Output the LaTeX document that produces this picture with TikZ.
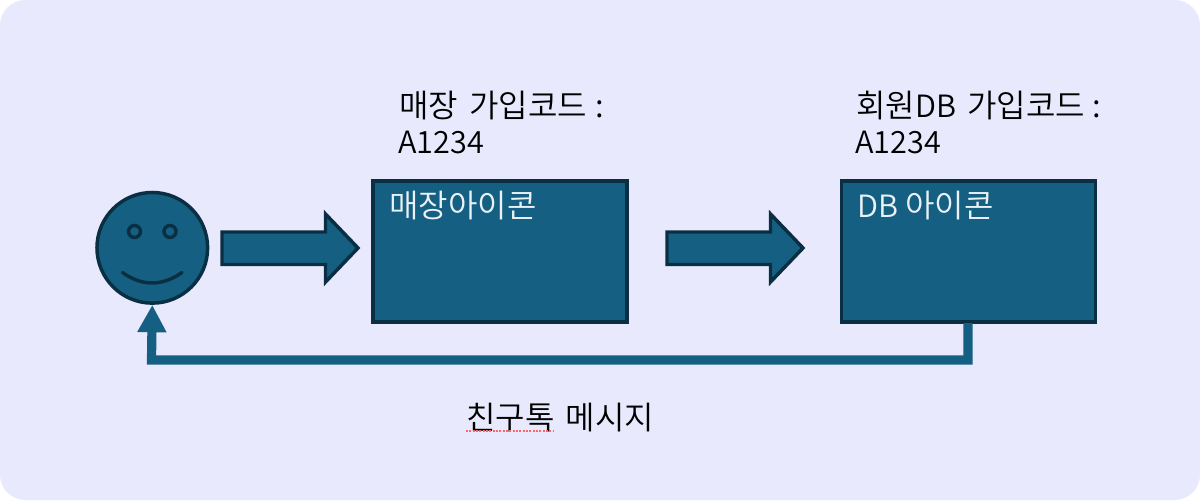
\documentclass[tikz,border=0pt]{standalone}
\usepackage{fontspec}
\setmainfont{Noto Sans CJK KR DemiLight}
\usetikzlibrary{arrows.meta}
\definecolor{bgc}{HTML}{E8E9FD}
\definecolor{fillc}{HTML}{156082}
\definecolor{edgec}{HTML}{0B2F42}
\definecolor{boxtxt}{HTML}{EAF2F7}
\newcommand{\wsp}[1]{\hspace*{#1pt}}
\tikzset{
  x=0.75pt,y=-0.75pt,
  outl/.style={draw=edgec,fill=fillc,line width=2.6pt,line join=miter},
  facebox/.style={circle,outl,minimum size=83pt,inner sep=0pt},
  panel/.style={rectangle,outl,minimum width=190.5pt,minimum height=106pt,inner sep=0pt},
  eye/.style={circle,outl,minimum size=9pt,inner sep=0pt,line width=2.6pt},
  lbl/.style={anchor=base west,inner sep=0pt,text=black,font=\fontsize{24pt}{28pt}\selectfont},
  boxlbl/.style={lbl,text=boxtxt},
  latn/.style={font=\fontsize{23pt}{28pt}\selectfont},
  feedback/.style={draw=fillc,line width=6.9pt,-{Triangle[length=20.5pt,width=20.5pt]}},
  blockarrow/.style={outl}
}
\begin{document}
\begin{tikzpicture}
\useasboundingbox (0,0) rectangle (1200,500);
\fill[white] (0,0) rectangle (1200,500);
\fill[bgc,rounded corners=19pt] (0,0) rectangle (1200,500);

\node[facebox] (face) at (152.3,247.8) {};
\node[eye] (eyeL) at (134.5,231.5) {};
\node[eye] (eyeR) at (170,231.5) {};
\draw[edgec,line width=2.6pt,line cap=round] (122.5,272.5) .. controls (142,286.5) and (162,286.5) .. (182,272.5);

\node[panel] (shop) at (500,251.5) {};
\node[panel] (db) at (968.5,251.5) {};

\draw[blockarrow] (222,232) -- (325.5,232) -- (325.5,214) -- (358,248) -- (325.5,282) -- (325.5,264.5) -- (222,264.5) -- cycle;
\draw[blockarrow,shift={(445,0)}] (222,232) -- (325.5,232) -- (325.5,214) -- (358,248) -- (325.5,282) -- (325.5,264.5) -- (222,264.5) -- cycle;

\coordinate (fbstart) at (968,323);
\coordinate (fbcorner) at (968,360);
\coordinate (fbturn) at (151.5,360);
\draw[feedback] (fbstart) -- (fbcorner) -- (fbturn) -- (face.south);

\node[lbl] (t1a) at (399,117) {매장\wsp{3} 가입코드\wsp{0.8} :};
\node[lbl,latn] (t1b) at (398,153) {A1234};
\node[lbl] (t2a) at (856,117) {회원{\fontsize{23pt}{28pt}\selectfont DB}\wsp{3} 가입코드\wsp{0.5} :};
\node[lbl,latn] (t2b) at (855,153) {A1234};
\node[boxlbl] (s1) at (389,217) {매장아이콘};
\node[boxlbl] (s2) at (857,217) {{\fontsize{23pt}{28pt}\selectfont DB} 아이콘};
\node[lbl] (msg) at (466,429) {친구톡\wsp{3} 메시지};
\draw[red!60!white,line width=0.9pt,dash pattern=on 1.5pt off 1pt] (466,431) -- (554,431);
\end{tikzpicture}
\end{document}
